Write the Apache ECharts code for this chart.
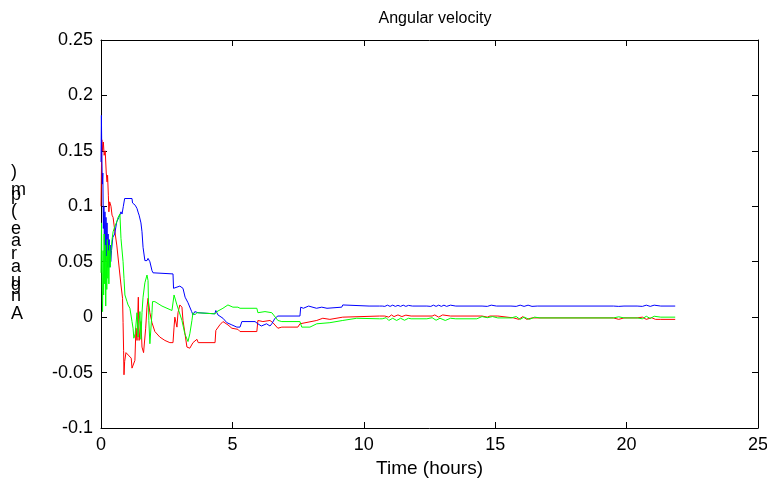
<!DOCTYPE html>
<html>
<head>
<meta charset="utf-8">
<script src="https://cdn.jsdelivr.net/npm/echarts@6/dist/echarts.min.js"></script>
<style>
html,body{margin:0;padding:0;background:#fff;}
#chart{width:767px;height:486px;}
</style>
</head>
<body>
<div id="chart"></div>
<script>
var titleText = 'Angular velocity';
var xName = 'Time (hours)';
// garbled rotated y label glyphs, as they appear (top to bottom)
var yLabelChars = [')', 'm', 'p', '(', 'e', 'a', 'r', 'a', 'u', 'g', 'n', 'A'];

var blueData = [
[0,0.14],[0.015,0.182],[0.03,0.15],[0.05,0.12],[0.07,0.13],[0.09,0.08],[0.11,0.1],[0.13,0.06],[0.15,0.095],[0.17,0.05],[0.19,0.09],[0.21,0.055],[0.23,0.085],[0.25,0.045],[0.27,0.075],[0.29,0.05],[0.31,0.07],[0.33,0.045],[0.35,0.065],[0.37,0.05],[0.4,0.06],[0.45,0.072],[0.52,0.075],[0.6,0.086],[0.68,0.09],[0.76,0.095],[0.8,0.093],[0.85,0.1],[0.9,0.107],[1.18,0.107],[1.2,0.103],[1.3,0.101],[1.37,0.098],[1.42,0.094],[1.45,0.092],[1.52,0.085],[1.56,0.077],[1.6,0.063],[1.67,0.051],[1.75,0.051],[1.79,0.053],[1.86,0.05],[1.94,0.042],[1.98,0.04],[2.74,0.039],[2.76,0.026],[2.81,0.027],[3.0,0.028],[3.12,0.026],[3.2,0.018],[3.31,0.013],[3.45,0.005],[3.5,0.002],[3.57,0.005],[3.69,0.004],[3.76,0.003],[4.33,0.003],[4.37,0.006],[4.41,0.004],[4.45,0.002],[4.64,-0.001],[4.79,-0.005],[4.98,-0.007],[5.17,-0.009],[5.29,-0.009],[5.36,-0.004],[5.86,-0.004],[5.97,-0.006],[6.1,-0.008],[6.3,-0.006],[6.43,-0.008],[6.5,-0.006],[6.62,-0.001],[6.73,0.001],[7.57,0.001],[7.6,0.009],[7.7,0.008],[7.9,0.010],[8.2,0.008],[8.4,0.009],[8.6,0.008],[9.16,0.009],[9.2,0.011],[10.2,0.010],
[10.6,0.010],[10.7,0.010],[10.75,0.0108],[10.8,0.0097],[10.9,0.0108],[11.0,0.0097],[11.1,0.0108],[11.2,0.0097],[11.3,0.0106],[11.4,0.0097],[11.5,0.0108],[11.6,0.0097],[11.7,0.0106],[11.85,0.010],[12.4,0.010],[12.45,0.0108],[12.55,0.0097],[12.65,0.0108],[12.75,0.0097],[12.85,0.0108],[12.95,0.0097],[13.05,0.0108],[13.15,0.0097],[13.3,0.0108],[13.5,0.010],[14.5,0.010],[14.55,0.0108],[14.7,0.0097],[14.85,0.0108],[15.05,0.010],[15.6,0.010],[15.65,0.0108],[15.8,0.0097],[15.95,0.0108],[16.1,0.0097],[16.25,0.0108],[16.4,0.0097],[16.6,0.010],[19.5,0.010],[19.55,0.0108],[19.7,0.0097],[19.9,0.010],[20.4,0.010],[20.45,0.0108],[20.6,0.0097],[20.75,0.0108],[20.9,0.0097],[21.05,0.0108],[21.3,0.010],[21.85,0.010]
];

var redData = [
[0,0.1],[0.03,0.16],[0.06,0.15],[0.09,0.158],[0.12,0.146],[0.16,0.15],[0.2,0.13],[0.23,0.122],[0.25,0.128],[0.28,0.11],[0.3,0.095],[0.33,0.104],[0.38,0.1],[0.42,0.092],[0.46,0.09],[0.53,0.077],[0.6,0.065],[0.68,0.047],[0.76,0.029],[0.82,0.017],[0.84,-0.005],[0.86,-0.03],[0.875,-0.052],[0.9,-0.04],[0.95,-0.032],[1.0,-0.032],[1.07,-0.035],[1.15,-0.037],[1.18,-0.046],[1.22,-0.046],[1.29,-0.039],[1.33,-0.01],[1.37,-0.021],[1.42,0.018],[1.45,-0.021],[1.52,-0.004],[1.56,-0.027],[1.62,-0.032],[1.7,-0.01],[1.75,0.009],[1.79,0.017],[1.86,0.004],[1.94,-0.005],[2.05,-0.013],[2.24,-0.018],[2.43,-0.021],[2.62,-0.023],[2.74,-0.023],[2.78,-0.009],[2.81,0.0],[2.89,-0.009],[2.93,0.004],[3.0,0.011],[3.08,0.009],[3.12,-0.003],[3.19,-0.014],[3.27,-0.027],[3.38,-0.028],[3.5,-0.023],[3.57,-0.024],[3.65,-0.02],[3.7,-0.023],[4.34,-0.023],[4.37,-0.012],[4.52,-0.007],[4.64,-0.004],[4.83,-0.007],[4.98,-0.01],[5.21,-0.011],[5.29,-0.013],[5.93,-0.013],[5.97,-0.003],[6.16,-0.004],[6.43,-0.003],[6.54,-0.005],[6.73,-0.01],[6.88,-0.009],[7.0,-0.009],[7.49,-0.009],[7.57,-0.006],[8.21,-0.003],[8.44,-0.001],[8.71,-0.002],[9.2,0.0],
[10.6,0.001],[10.8,0.001],[10.85,0.002],[10.95,0.0],[11.05,0.002],[11.15,0.0005],[11.3,0.002],[11.45,0.0005],[11.6,0.0018],[11.8,0.001],[12.6,0.001],[12.7,0.002],[12.85,0.0],[13.0,0.002],[13.3,0.001],[14.5,0.001],[14.55,0.0025],[14.7,0.0],[14.8,0.001],[15.1,0.001],[15.15,-0.0007],[15.7,-0.0007],[15.75,0.001],[15.9,-0.002],[16.05,0.0005],[16.2,-0.002],[16.4,-0.0007],[19.5,-0.0007],[19.55,0.0008],[19.7,-0.002],[19.9,-0.0007],[20.4,-0.0007],[20.45,-0.002],[20.6,0.0],[20.75,-0.002],[20.95,-0.0005],[21.1,-0.002],[21.3,-0.002],[21.85,-0.002]
];

var greenData = [
[0,0.04],[0.02,0.085],[0.04,0.03],[0.06,0.005],[0.08,0.06],[0.1,0.02],[0.12,0.075],[0.14,0.03],[0.16,0.065],[0.18,0.01],[0.2,0.055],[0.22,0.025],[0.24,0.07],[0.26,0.035],[0.28,0.06],[0.3,0.03],[0.32,0.065],[0.35,0.045],[0.38,0.06],[0.42,0.07],[0.46,0.077],[0.53,0.082],[0.6,0.086],[0.65,0.09],[0.72,0.093],[0.76,0.071],[0.84,0.05],[0.875,0.035],[0.91,0.02],[0.99,0.014],[1.03,0.011],[1.1,0.008],[1.18,-0.004],[1.22,-0.01],[1.25,-0.019],[1.3,-0.015],[1.37,0.004],[1.41,-0.018],[1.48,0.005],[1.52,-0.02],[1.56,0.004],[1.6,0.018],[1.67,0.031],[1.75,0.038],[1.79,0.033],[1.82,-0.003],[1.86,-0.024],[1.94,0.004],[1.96,0.014],[2.05,0.014],[2.32,0.010],[2.7,0.006],[2.74,0.005],[2.78,0.02],[2.81,0.019],[2.89,0.011],[2.93,0.01],[3.08,-0.003],[3.19,-0.015],[3.31,-0.022],[3.38,-0.015],[3.46,-0.003],[3.5,0.004],[3.57,0.002],[3.65,0.004],[3.69,0.005],[3.72,0.003],[4.34,0.003],[4.41,0.005],[4.64,0.008],[4.83,0.011],[5.02,0.009],[5.21,0.009],[5.29,0.008],[5.93,0.008],[5.97,0.004],[6.24,0.005],[6.5,0.004],[6.73,-0.003],[6.88,-0.004],[7.57,-0.004],[7.64,-0.009],[7.95,-0.009],[8.21,-0.006],[8.71,-0.005],[9.2,-0.003],[9.73,-0.001],
[10.6,-0.0015],[10.7,-0.0015],[10.75,-0.003],[10.85,-0.0005],[10.95,-0.003],[11.1,-0.001],[11.25,-0.003],[11.4,-0.001],[11.55,-0.0028],[11.7,-0.001],[11.8,-0.0015],[12.4,-0.0015],[12.45,-0.003],[12.6,-0.0005],[12.75,-0.0028],[12.9,-0.001],[13.1,-0.003],[13.3,-0.001],[13.5,-0.0015],[14.3,-0.0015],[14.35,-0.0003],[14.5,0.0005],[14.7,-0.0005],[14.9,0.0005],[15.1,-0.0007],[15.6,-0.0007],[15.65,-0.0025],[15.8,0.0005],[15.95,-0.002],[16.1,0.0],[16.3,-0.002],[16.5,0.0],[16.7,-0.0007],[19.5,-0.0007],[19.55,-0.0025],[19.7,0.0003],[19.9,-0.0007],[20.4,-0.0007],[20.45,0.0008],[20.6,-0.0015],[20.75,0.0008],[20.9,-0.0012],[21.05,0.0008],[21.3,0.0],[21.85,0.0]
];

var xMin = 0, xMax = 25, xStep = 5;
var yMin = -0.1, yMax = 0.25, yStep = 0.05;

var FONT = '"Liberation Sans", Arial, sans-serif';
var chart = echarts.init(document.getElementById('chart'), null, {renderer: 'canvas'});

function axisCommon(show) {
  return {
    axisLine: {show: true, onZero: false, lineStyle: {color: '#000', width: 1}},
    axisTick: {show: true, inside: true, length: 6, lineStyle: {color: '#000', width: 1}},
    axisLabel: {show: show, color: '#000', fontFamily: FONT, fontSize: 18},
    splitLine: {show: false}
  };
}

var yLabelY = [173, 191, 196, 212, 230, 242, 255, 268, 282, 286, 297, 315];
var graphics = yLabelChars.map(function (c, i) {
  return {
    type: 'text', left: 11, top: yLabelY[i] - 10, silent: true,
    style: {text: c, fill: '#000', font: '18px ' + FONT, textAlign: 'center', textVerticalAlign: 'middle', x: 7, y: 10}
  };
});

var option = {
  animation: false,
  backgroundColor: '#fff',
  title: {
    text: titleText, left: 430, top: 6, textAlign: 'center',
    textStyle: {color: '#000', fontFamily: FONT, fontSize: 16, fontWeight: 'normal'}
  },
  grid: {left: 101, right: 9, top: 40, bottom: 58, containLabel: false, outerBoundsMode: 'none'},
  graphic: graphics,
  xAxis: [
    Object.assign(axisCommon(true), {
      type: 'value', min: xMin, max: xMax, interval: xStep, position: 'bottom',
      name: xName, nameLocation: 'middle', nameGap: 31,
      nameTextStyle: {color: '#000', fontFamily: FONT, fontSize: 19},
    }),
    Object.assign(axisCommon(false), {type: 'value', min: xMin, max: xMax, interval: xStep, position: 'top'})
  ],
  yAxis: [
    Object.assign(axisCommon(true), {type: 'value', min: yMin, max: yMax, interval: yStep, position: 'left'}),
    Object.assign(axisCommon(false), {type: 'value', min: yMin, max: yMax, interval: yStep, position: 'right'})
  ],
  series: [
    {type: 'line', data: blueData, showSymbol: false, lineStyle: {color: '#0000ff', width: 1}, itemStyle: {color: '#0000ff'}, z: 3},
    {type: 'line', data: redData, showSymbol: false, lineStyle: {color: '#ff0000', width: 1}, itemStyle: {color: '#ff0000'}, z: 2},
    {type: 'line', data: greenData, showSymbol: false, lineStyle: {color: '#00ff00', width: 1}, itemStyle: {color: '#00ff00'}, z: 4}
  ]
};
chart.setOption(option);
</script>
</body>
</html>
